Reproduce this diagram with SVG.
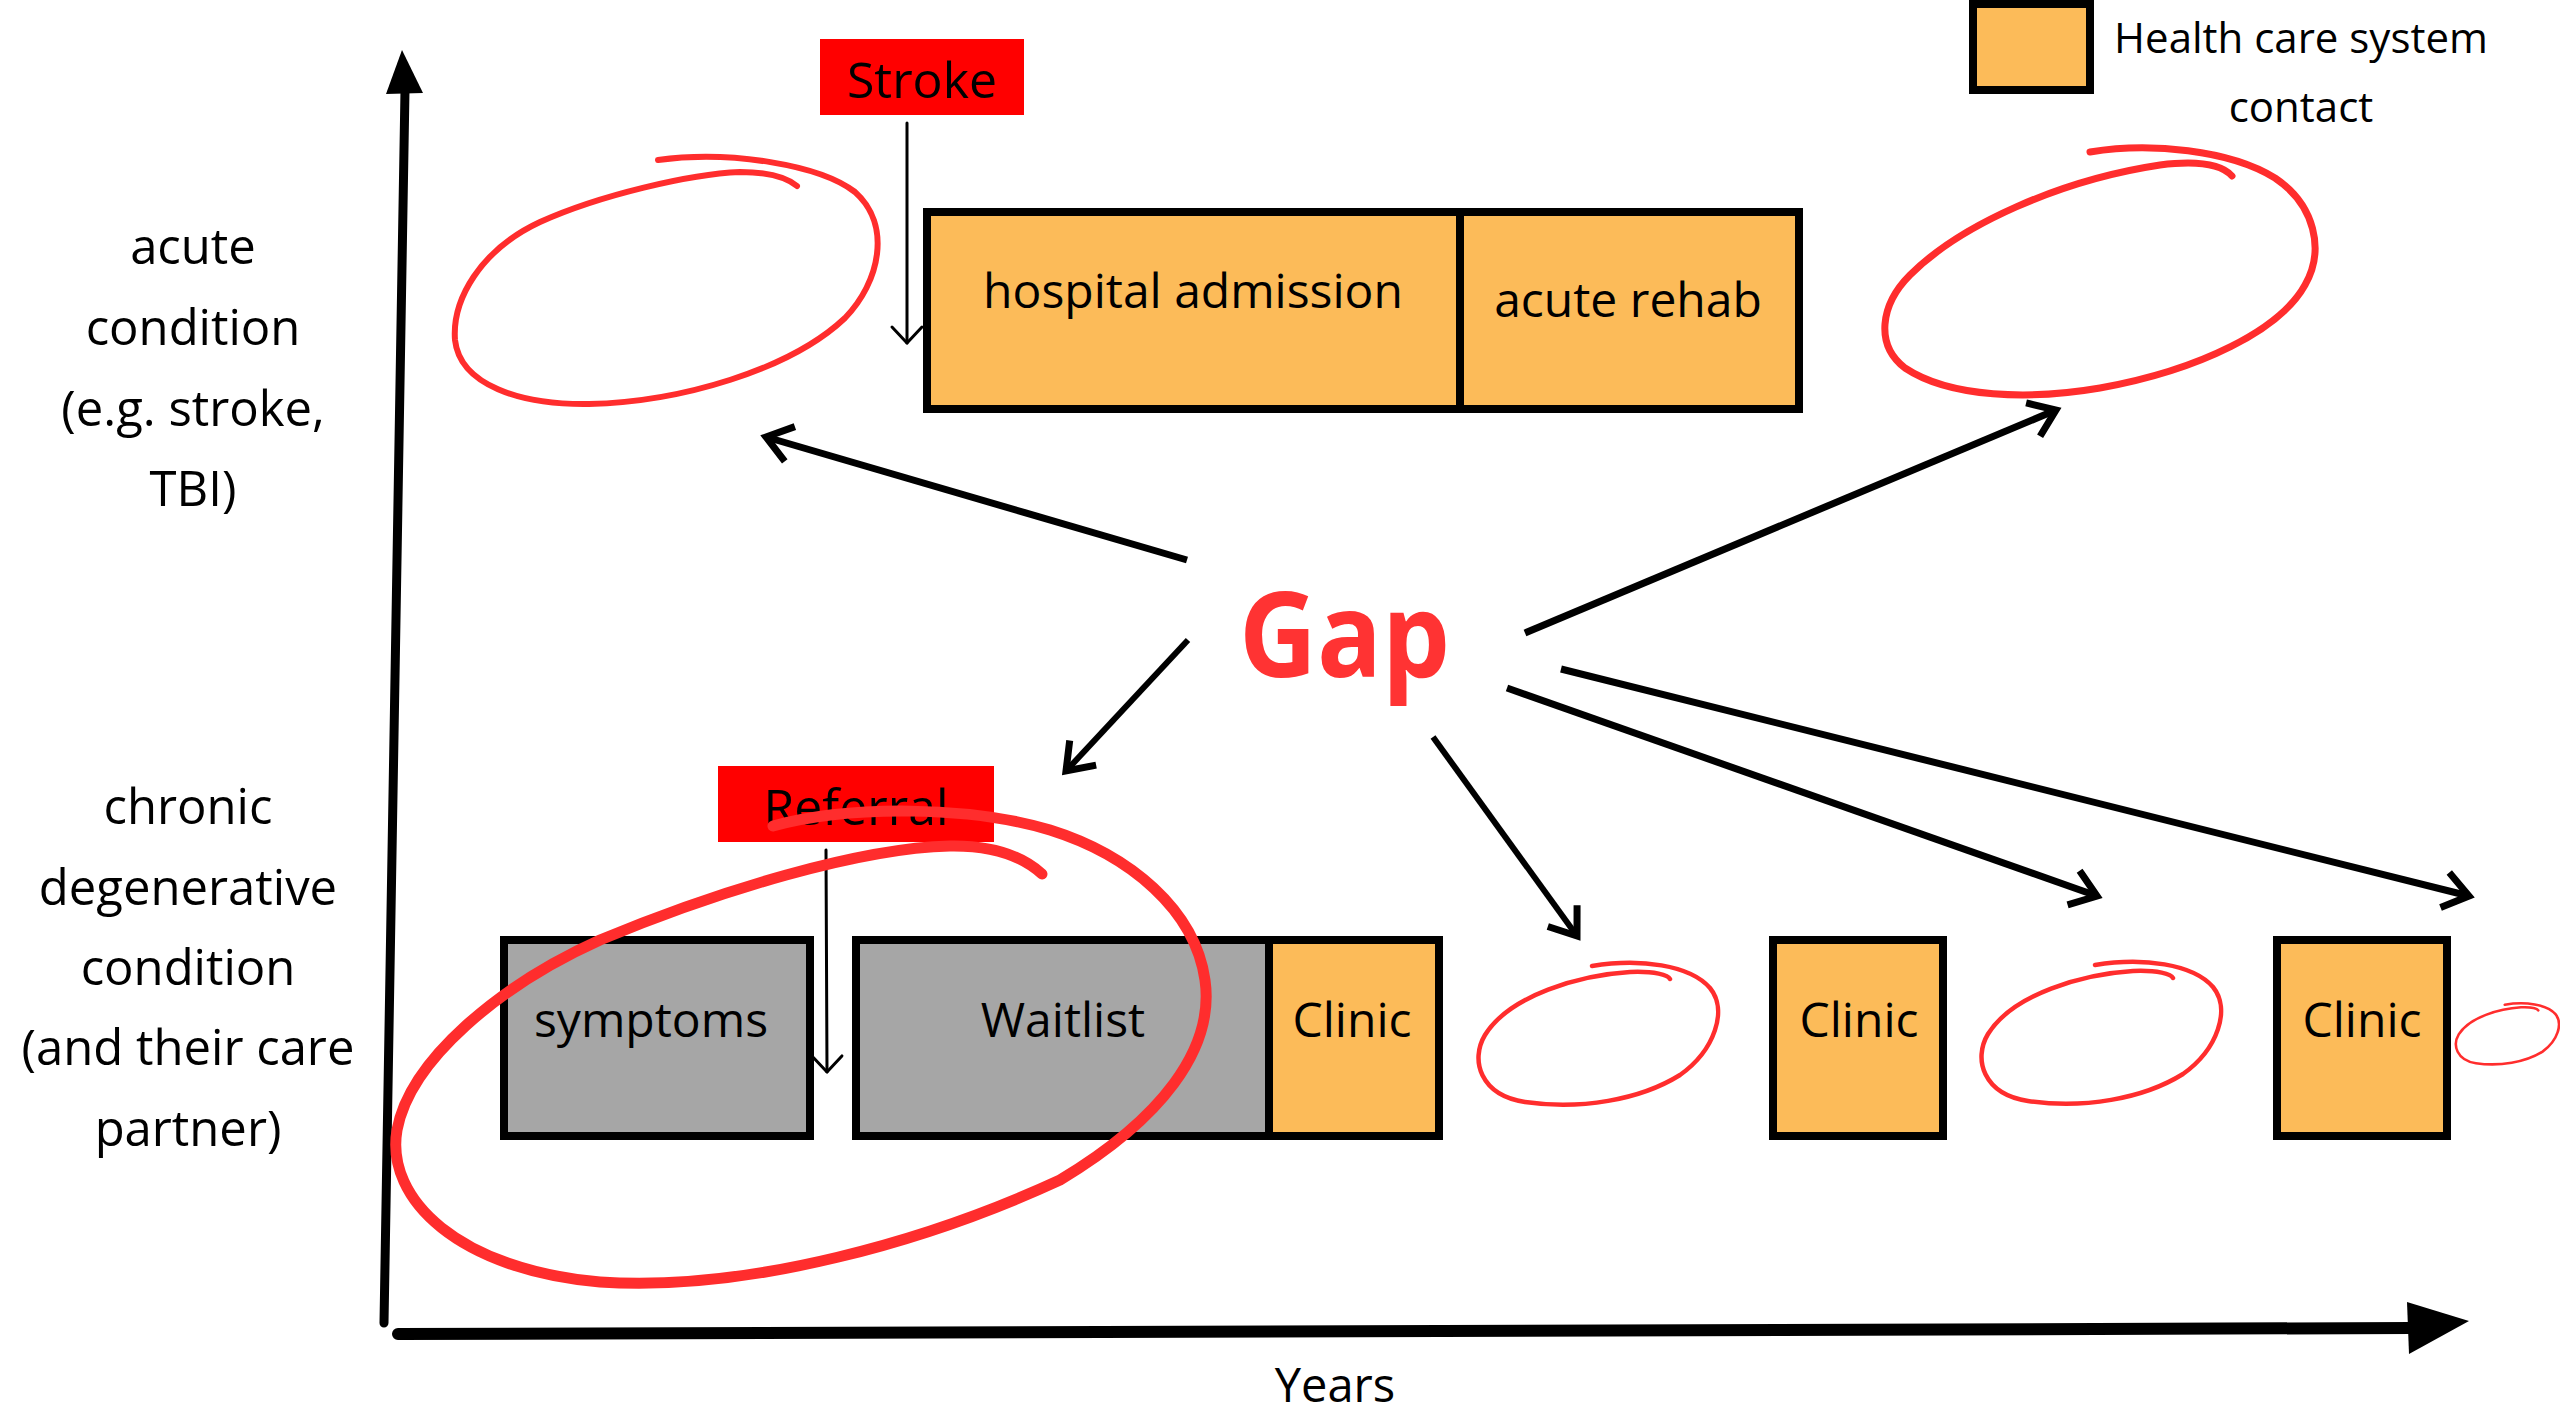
<svg xmlns="http://www.w3.org/2000/svg" width="2560" height="1411" viewBox="0 0 2560 1411">
<style>
text{font-family:"Open Sans","Noto Sans","DejaVu Sans",sans-serif;fill:#000}
.lbl{font-size:49px;text-anchor:middle}
.bx{font-size:48px;text-anchor:middle}
.tag{font-size:50px;text-anchor:middle}
.or{fill:#FCBB59}
.gr{fill:#A6A6A6}
.edge{fill:none;stroke:#000;stroke-width:8}
.circ{fill:none;stroke:#FF2D2D;stroke-linecap:round;stroke-linejoin:round}
.gap{fill:none;stroke:#000;stroke-width:7;marker-end:url(#vh)}
.thin{fill:none;stroke:#000;stroke-width:3;stroke-linecap:round}
</style>
<defs>
<marker id="vh" markerUnits="userSpaceOnUse" markerWidth="60" markerHeight="60" viewBox="-30 -30 60 60" refX="0" refY="0" orient="auto">
<path d="M-22,-16 L0,0 L-22,16" fill="none" stroke="#000" stroke-width="7" stroke-linecap="square"/>
</marker>
<marker id="vt" markerUnits="userSpaceOnUse" markerWidth="40" markerHeight="40" viewBox="-20 -20 40 40" refX="0" refY="0" orient="auto">
<path d="M-16,-15 L0,0 L-16,15" fill="none" stroke="#000" stroke-width="3" stroke-linecap="round" stroke-linejoin="round"/>
</marker>
<path id="smallO" d="M1592,966 C1640,958 1690,965 1710,988 C1728,1010 1715,1050 1680,1075 C1640,1100 1580,1110 1525,1102 C1480,1095 1470,1060 1485,1035 C1510,995 1580,975 1630,972 C1655,971 1668,975 1670,979"/>
</defs>
<rect width="2560" height="1411" fill="#fff"/>

<g id="axes">
<line x1="405" y1="90" x2="384" y2="1323" stroke="#000" stroke-width="9" stroke-linecap="round"/>
<polygon points="402,50 386,94 423,93" fill="#000"/>
<line x1="398" y1="1334" x2="2412" y2="1328" stroke="#000" stroke-width="12" stroke-linecap="round"/>
<polygon points="2407,1302 2469,1321 2409,1354" fill="#000"/>
<text x="1335" y="1402" class="bx" style="font-size:47px">Years</text>
</g>

<g id="label-acute">
<text class="lbl" x="193" y="264">acute</text>
<text class="lbl" x="193" y="345">condition</text>
<text class="lbl" x="193" y="426">(e.g. stroke,</text>
<text class="lbl" x="193" y="506">TBI)</text>
</g>
<g id="label-chronic">
<text class="lbl" x="188" y="824">chronic</text>
<text class="lbl" x="188" y="905">degenerative</text>
<text class="lbl" x="188" y="985">condition</text>
<text class="lbl" x="188" y="1065">(and their care</text>
<text class="lbl" x="188" y="1146">partner)</text>
</g>

<g id="legend">
<rect x="1973" y="4" width="117" height="86" class="or"/>
<rect x="1973" y="4" width="117" height="86" class="edge"/>
<text x="2301" y="53" style="font-size:42px;text-anchor:middle">Health care system</text>
<text x="2301" y="122" style="font-size:42px;text-anchor:middle">contact</text>
</g>

<g id="stroke-tag">
<rect x="820" y="39" width="204" height="76" fill="#FF0000"/>
<text class="tag" x="922" y="98">Stroke</text>
</g>

<g id="hospital">
<rect x="927" y="212" width="872" height="197" class="or"/>
<rect x="927" y="212" width="872" height="197" class="edge"/>
<line x1="1460" y1="212" x2="1460" y2="409" stroke="#000" stroke-width="8"/>
<text class="bx" x="1193" y="308">hospital admission</text>
<text class="bx" x="1628" y="317">acute rehab</text>
</g>

<g id="symptoms">
<rect x="504" y="940" width="306" height="196" class="gr"/>
<rect x="504" y="940" width="306" height="196" class="edge"/>
<text class="bx" x="651" y="1037">symptoms</text>
</g>

<g id="waitlist-clinic">
<rect x="856" y="940" width="413" height="196" class="gr"/>
<rect x="1269" y="940" width="170" height="196" class="or"/>
<rect x="856" y="940" width="583" height="196" class="edge"/>
<line x1="1269" y1="940" x2="1269" y2="1136" stroke="#000" stroke-width="8"/>
<text class="bx" x="1063" y="1037">Waitlist</text>
<text class="bx" x="1352" y="1037">Clinic</text>
</g>

<g id="clinic2">
<rect x="1773" y="940" width="170" height="196" class="or"/>
<rect x="1773" y="940" width="170" height="196" class="edge"/>
<text class="bx" x="1859" y="1037">Clinic</text>
</g>
<g id="clinic3">
<rect x="2277" y="940" width="170" height="196" class="or"/>
<rect x="2277" y="940" width="170" height="196" class="edge"/>
<text class="bx" x="2362" y="1037">Clinic</text>
</g>

<g id="referral-tag">
<rect x="718" y="766" width="276" height="76" fill="#FF0000"/>
<text class="tag" x="856" y="825">Referral</text>
</g>

<g id="gap-label">
<text x="1239" y="677" textLength="211" lengthAdjust="spacingAndGlyphs" style="font-size:118px;font-weight:bold;fill:#FF3333">Gap</text>
</g>

<g id="gap-circles">
<path class="circ" stroke-width="6" d="M797,186 Q780,172 740,172 C690,174 600,195 540,222 C480,250 452,300 455,340 C460,385 520,405 589,404 C680,402 790,370 845,318 C880,282 892,225 855,192 C820,165 730,150 658,160"/>
<path class="circ" stroke-width="7" d="M2090,152 C2150,142 2230,150 2275,178 C2315,205 2325,250 2305,285 C2280,330 2200,370 2100,388 C2030,400 1950,398 1905,368 C1875,345 1880,305 1910,275 C1960,225 2060,180 2160,165 C2200,160 2222,165 2232,176"/>
<use href="#smallO" class="circ" stroke-width="4.5"/>
<use href="#smallO" class="circ" stroke-width="4.5" transform="translate(503,-1)"/>
<use href="#smallO" class="circ" stroke-width="6" transform="translate(2454,1003) scale(0.43) translate(-1474,-962)"/>
</g>

<g id="connectors">
<line class="thin" x1="907" y1="123" x2="907" y2="343" marker-end="url(#vt)"/>
<line class="thin" x1="826" y1="850" x2="827" y2="1072" marker-end="url(#vt)"/>
<line class="gap" x1="1187" y1="560" x2="766" y2="437"/>
<line class="gap" x1="1525" y1="633" x2="2056" y2="410"/>
<line class="gap" x1="1188" y1="640" x2="1066" y2="771" style="stroke-width:6"/>
<line class="gap" x1="1433" y1="737" x2="1577" y2="936" style="stroke-width:6"/>
<line class="gap" x1="1507" y1="688" x2="2097" y2="896"/>
<line class="gap" x1="1561" y1="669" x2="2469" y2="896"/>
</g>

<g id="chronic-circle">
<path class="circ" stroke-width="11" d="M1042,874 Q1010,845 950,846 C860,848 720,890 600,940 C500,985 410,1060 397,1130 C385,1200 460,1270 600,1282 C750,1292 930,1240 1060,1180 C1160,1120 1215,1050 1205,980 C1195,910 1130,855 1050,830 C970,806 850,805 773,826"/>
</g>
</svg>
